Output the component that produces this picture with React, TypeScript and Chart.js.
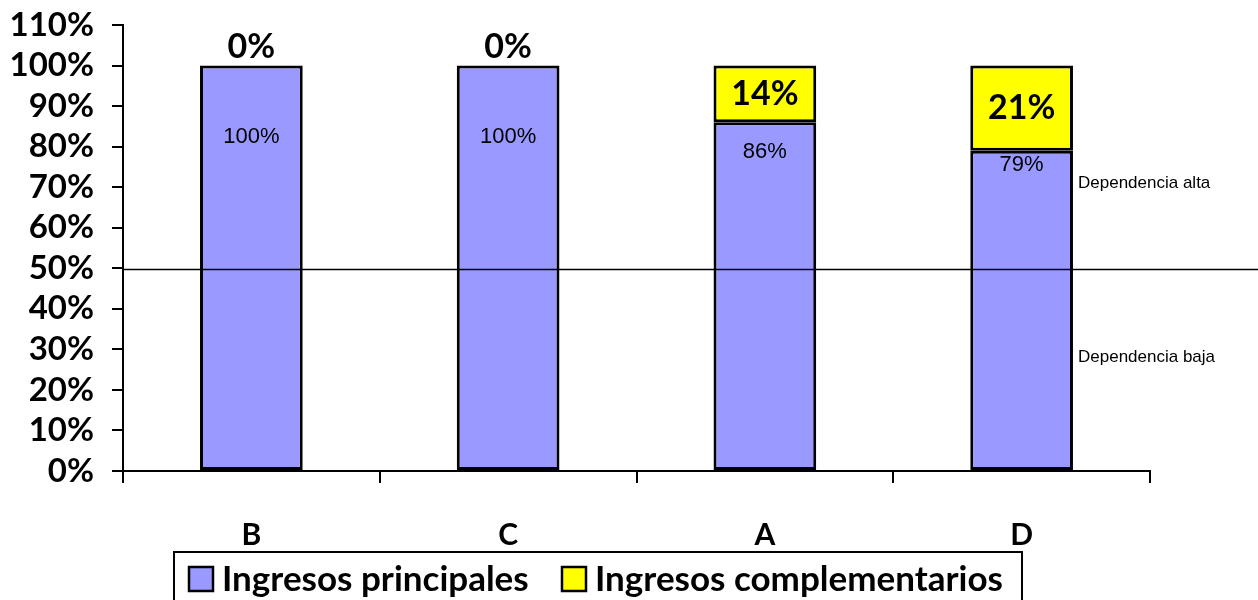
import React, { useEffect, useRef } from "react";
import { Chart, registerables } from "chart.js";

Chart.register(...registerables);

const categories = ["B", "C", "A", "D"];
const principales = [100, 100, 86, 79];
const complementarios = [0, 0, 14, 21];
const seriesNames = ["Ingresos principales", "Ingresos complementarios"];
const seriesColors = ["#9999FF", "#FFFF00"];
const yTicks = [0, 10, 20, 30, 40, 50, 60, 70, 80, 90, 100, 110];
const threshold = 50;
const zoneLabels = ["Dependencia alta", "Dependencia baja"];
const zoneValues = [71, 28];

const BOLD = "Lato, 'Open Sans', sans-serif";
const ARIAL = "'Liberation Sans', Arial, sans-serif";

const principalLabelOffsets = [71, 71, 30, 14];

const overlay = {
  id: "overlay",
  afterDatasetsDraw(chart: any) {
    const ctx = chart.ctx;
    const ys = chart.scales.y;
    const m0 = chart.getDatasetMeta(0);
    const m1 = chart.getDatasetMeta(1);
    ctx.save();
    ctx.fillStyle = "#000";
    ctx.textAlign = "center";
    ctx.textBaseline = "middle";
    for (let i = 0; i < categories.length; i++) {
      const b0 = m0.data[i];
      ctx.font = `normal 22px ${ARIAL}`;
      ctx.fillText(`${principales[i]}%`, b0.x, b0.y + principalLabelOffsets[i]);
      const b1 = m1.data[i];
      ctx.font = `bold 34px ${BOLD}`;
      if (complementarios[i] === 0) {
        ctx.fillText(`${complementarios[i]}%`, b1.x, b1.y - 19);
      } else {
        ctx.fillText(`${complementarios[i]}%`, b1.x, (b1.y + b1.base) / 2);
      }
    }
    // threshold line
    const ty = Math.round(ys.getPixelForValue(threshold)) + 1.5;
    ctx.strokeStyle = "#000";
    ctx.lineWidth = 1.5;
    ctx.beginPath();
    ctx.moveTo(chart.chartArea.left, ty);
    ctx.lineTo(chart.width, ty);
    ctx.stroke();
    // zone labels
    ctx.textAlign = "left";
    ctx.font = `normal 17px ${ARIAL}`;
    zoneLabels.forEach((t, k) => {
      ctx.fillText(t, 1078, ys.getPixelForValue(zoneValues[k]));
    });
    // legend
    ctx.lineWidth = 2;
    ctx.strokeRect(174, 552, 848, 70);
    ctx.font = `bold 35px ${BOLD}`;
    const legendX = [189, 562];
    seriesNames.forEach((name, k) => {
      const lx = legendX[k];
      ctx.fillStyle = seriesColors[k];
      ctx.fillRect(lx, 567, 24, 24);
      ctx.strokeStyle = "#000";
      ctx.lineWidth = 2.5;
      ctx.strokeRect(lx, 567, 24, 24);
      ctx.fillStyle = "#000";
      ctx.fillText(name, lx + 33, 580);
    });
    ctx.restore();
  },
};

export default function App() {
  const ref = useRef<HTMLCanvasElement>(null);
  useEffect(() => {
    document.body.style.margin = "0";
    const chart = new Chart(ref.current as HTMLCanvasElement, {
      type: "bar",
      data: {
        labels: categories,
        datasets: [
          {
            label: seriesNames[0],
            data: principales,
            backgroundColor: seriesColors[0],
            borderColor: "#000",
            borderWidth: 3,
            borderSkipped: false,
            barPercentage: 0.4,
            categoryPercentage: 1,
          },
          {
            label: seriesNames[1],
            data: complementarios,
            backgroundColor: seriesColors[1],
            borderColor: "#000",
            borderWidth: 3,
            borderSkipped: false,
            barPercentage: 0.4,
            categoryPercentage: 1,
          },
        ],
      },
      options: {
        responsive: false,
        animation: false,
        devicePixelRatio: 1,
        layout: { padding: { top: 25, right: 108, left: 0, bottom: 0 } },
        plugins: { legend: { display: false }, tooltip: { enabled: false } },
        scales: {
          x: {
            stacked: true,
            offset: true,
            grid: { offset: true, drawOnChartArea: false, drawTicks: true, tickLength: 12, color: "#000", lineWidth: 2 },
            border: { display: true, color: "#000", width: 2 },
            ticks: { color: "#000", font: { family: BOLD, size: 30, weight: "bold" }, padding: 34 },
            afterFit: (s: any) => { s.height = 129; },
          },
          y: {
            stacked: true,
            min: 0,
            max: 110,
            afterBuildTicks: (s: any) => { s.ticks = yTicks.map((v) => ({ value: v })); },
            grid: { drawOnChartArea: false, drawTicks: true, tickLength: 11, color: "#000", lineWidth: 2 },
            border: { display: true, color: "#000", width: 2 },
            ticks: {
              color: "#000",
              autoSkip: false,
              font: { family: BOLD, size: 33, weight: "bold", lineHeight: 0.1 },
              padding: 18,
              callback: (v: any) => `${v}%`,
            },
            afterFit: (s: any) => { s.width = 123; },
          },
        },
      },
      plugins: [overlay],
    });
    return () => chart.destroy();
  }, []);
  return (
    <div style={{ position: "fixed", left: 0, top: 0, width: 1258, height: 600 }}>
      <canvas ref={ref} width={1258} height={600} />
    </div>
  );
}
